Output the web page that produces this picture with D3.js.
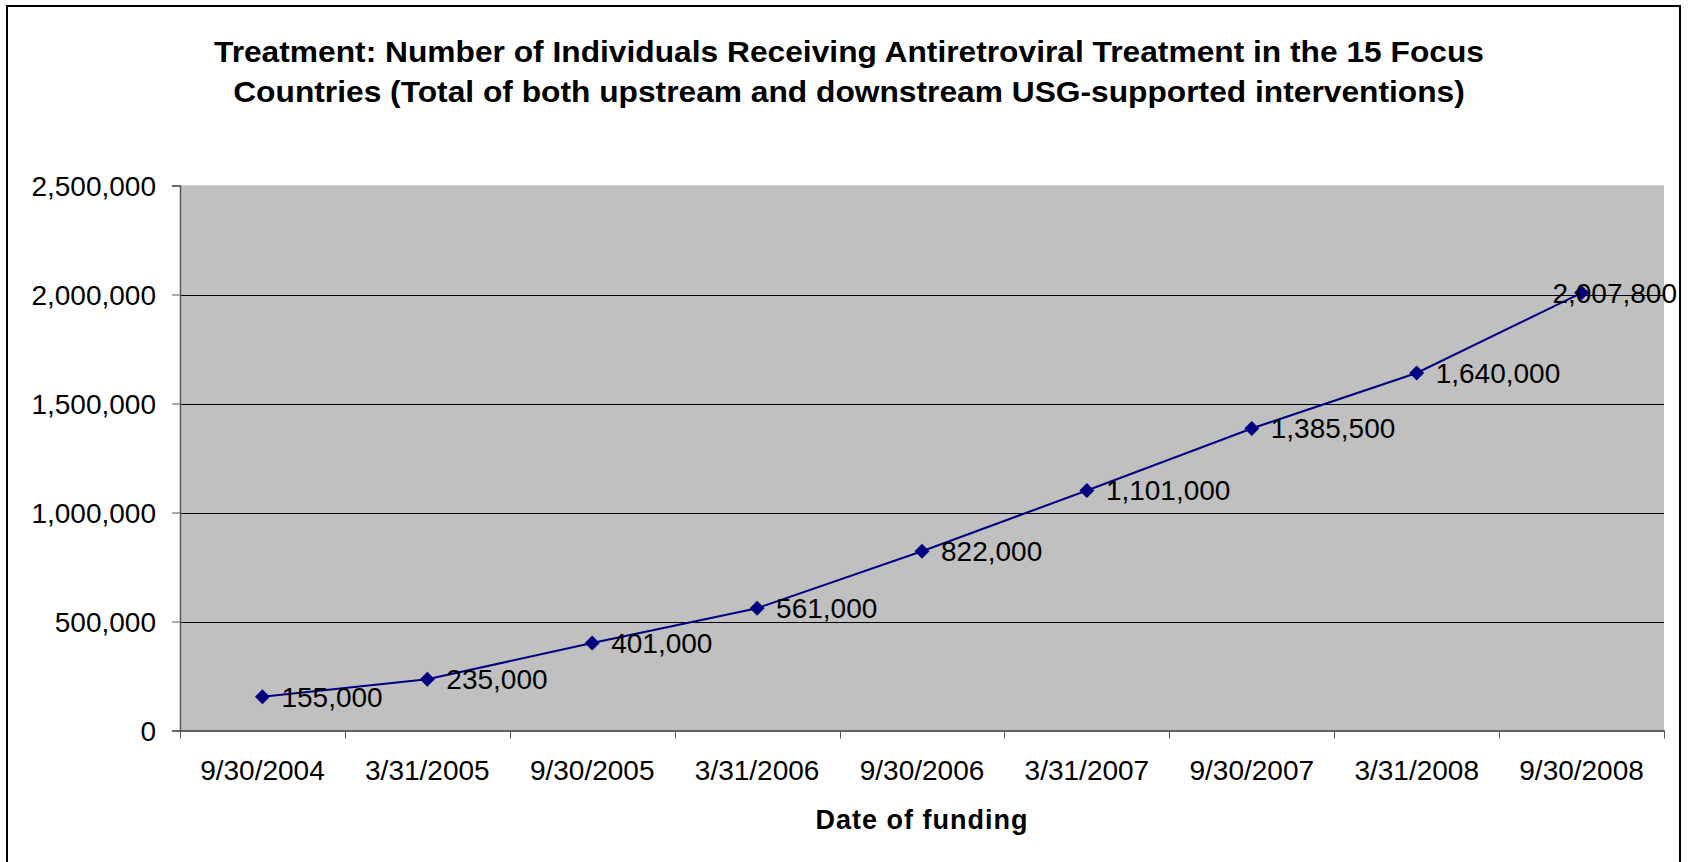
<!DOCTYPE html>
<html>
<head>
<meta charset="utf-8">
<script src="https://cdn.jsdelivr.net/npm/d3@7"></script>
<style>
  html, body { margin: 0; padding: 0; background: #fff; }
  svg { display: block; }
  text { font-family: "Liberation Sans", Arial, sans-serif; fill: #000; }
</style>
</head>
<body>
<svg id="chart" width="1689" height="862"></svg>
<script>
const categories = ["9/30/2004", "3/31/2005", "9/30/2005", "3/31/2006", "9/30/2006", "3/31/2007", "9/30/2007", "3/31/2008", "9/30/2008"];
const values = [155000, 235000, 401000, 561000, 822000, 1101000, 1385500, 1640000, 2007800];
const yTicks = [0, 500000, 1000000, 1500000, 2000000, 2500000];
const titleLines = [
  "Treatment: Number of Individuals Receiving Antiretroviral Treatment in the 15 Focus",
  "Countries (Total of both upstream and downstream USG-supported interventions)"
];
const xTitle = "Date of funding";

const W = 1689, H = 862;
const plot = { left: 180, right: 1664, top: 185.5, bottom: 730.5 };
const svg = d3.select("#chart");
const fmt = d3.format(",");

// outer chart border
svg.append("rect")
  .attr("x", 7).attr("y", 6)
  .attr("width", 1673).attr("height", 880)
  .attr("fill", "#fff").attr("stroke", "#000").attr("stroke-width", 2);

const x = d3.scaleBand().domain(categories).range([plot.left, plot.right]).padding(0);
const y = d3.scaleLinear().domain([0, 2500000]).range([plot.bottom, plot.top]);

// plot area
svg.append("rect")
  .attr("x", plot.left).attr("y", plot.top)
  .attr("width", plot.right - plot.left).attr("height", plot.bottom - plot.top)
  .attr("fill", "#C0C0C0");
svg.append("line")
  .attr("x1", plot.left).attr("x2", plot.right)
  .attr("y1", plot.top).attr("y2", plot.top)
  .attr("stroke", "#d4d4d4").attr("stroke-width", 1);

// gridlines
svg.append("g").selectAll("line")
  .data(yTicks.filter(t => t > 0 && t < 2500000))
  .join("line")
  .attr("x1", plot.left).attr("x2", plot.right)
  .attr("y1", d => Math.round(y(d)) + 0.5).attr("y2", d => Math.round(y(d)) + 0.5)
  .attr("stroke", "#000").attr("stroke-width", 1);

// y axis
const yAxis = d3.axisLeft(y).tickValues(yTicks).tickFormat(fmt).tickSize(8).tickPadding(16);
const gy = svg.append("g").attr("transform", `translate(${plot.left},0)`).call(yAxis);
gy.select(".domain").attr("stroke", "#555").attr("stroke-width", 1.5);
gy.selectAll(".tick line").attr("stroke", "#555");
gy.selectAll(".tick text")
  .attr("font-size", 28).attr("font-family", "Liberation Sans, Arial, sans-serif")
  .attr("fill", "#000").attr("dy", "0.35em");

// x axis
const xAxis = d3.axisBottom(x).tickSize(0).tickPadding(0);
const gx = svg.append("g").attr("transform", `translate(0,${plot.bottom})`).call(xAxis);
gx.select(".domain").attr("stroke", "#333").attr("stroke-width", 1.5);
gx.selectAll(".tick text")
  .attr("font-size", 28).attr("font-family", "Liberation Sans, Arial, sans-serif")
  .attr("fill", "#000").attr("y", 0).attr("dy", 49.5);
// category boundary ticks
const bounds = categories.map(c => x(c)).concat([x(categories[categories.length - 1]) + x.bandwidth()]);
svg.append("g").selectAll("line").data(bounds).join("line")
  .attr("x1", d => Math.round(d) + 0.5).attr("x2", d => Math.round(d) + 0.5)
  .attr("y1", plot.bottom).attr("y2", plot.bottom + 8)
  .attr("stroke", "#555").attr("stroke-width", 1);

// series line
const cx = d => x(d.cat) + x.bandwidth() / 2;
const data = categories.map((c, i) => ({ cat: c, v: values[i] }));
svg.append("path").datum(data)
  .attr("fill", "none").attr("stroke", "#000080").attr("stroke-width", 2)
  .attr("d", d3.line().x(cx).y(d => y(d.v)));

// markers
svg.append("g").selectAll("path").data(data).join("path")
  .attr("transform", d => `translate(${cx(d)},${y(d.v)})`)
  .attr("d", "M0,-7.5L7.5,0L0,7.5L-7.5,0Z")
  .attr("fill", "#000080");

// data labels
const labels = svg.append("g").selectAll("text").data(data).join("text")
  .attr("x", d => cx(d) + 19)
  .attr("y", d => y(d.v))
  .attr("dy", "0.35em")
  .attr("font-size", 28)
  .text(d => fmt(d.v));
labels.each(function () {
  const w = this.getComputedTextLength();
  const xx = +this.getAttribute("x");
  if (xx + w > 1677) this.setAttribute("x", 1677 - w);
});

// title
const t = svg.append("g");
const tl = t.selectAll("text").data(titleLines).join("text")
  .attr("x", 849).attr("y", (d, i) => 61.7 + i * 40)
  .attr("text-anchor", "middle")
  .attr("font-size", 29.5).attr("font-weight", "bold")
  .text(d => d);
const w1 = tl.nodes()[0].getComputedTextLength();
const k = 1270 / w1;
tl.each(function () {
  const w = this.getComputedTextLength();
  this.setAttribute("textLength", w * k);
  this.setAttribute("lengthAdjust", "spacingAndGlyphs");
});

// x axis title
svg.append("text")
  .attr("x", (plot.left + plot.right) / 2).attr("y", 829)
  .attr("text-anchor", "middle")
  .attr("font-size", 27).attr("font-weight", "bold")
  .attr("letter-spacing", 1)
  .text(xTitle);
</script>
</body>
</html>
